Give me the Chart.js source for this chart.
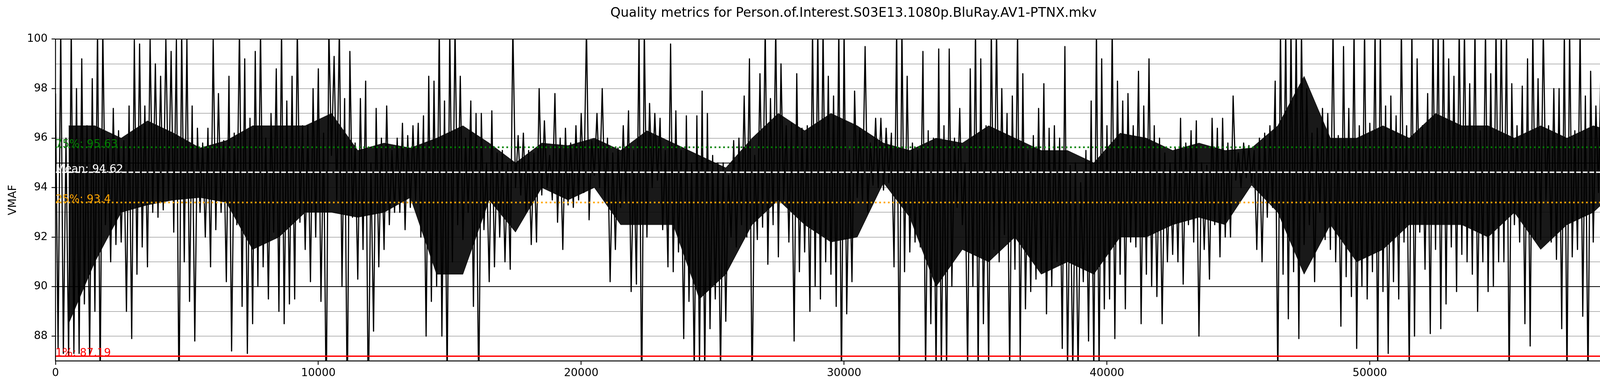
<!DOCTYPE html>
<html>
<head>
<meta charset="utf-8">
<script src="https://cdn.jsdelivr.net/npm/chart.js@4.4.1/dist/chart.umd.min.js"></script>
<style>
html, body { margin: 0; padding: 0; background: #ffffff; overflow: hidden; }
#wrap { width: 4400px; height: 1000px; }
canvas { display: block; }
</style>
</head>
<body>
<div id="wrap"><canvas id="chart" width="4400" height="1000" style="width:4400px;height:1000px"></canvas></div>
<script>
// ---------------- data ----------------
const chartTitle = 'Quality metrics for Person.of.Interest.S03E13.1080p.BluRay.AV1-PTNX.mkv';
const yAxisLabel = 'VMAF';
const FRAME_STEP = 100;
const totalFrames = 62829;
const lastFrame = 62828;
const lastScore = 96.1;

// VMAF readings, frames 0 .. 6900
const vmafSeg0 = [97.8, 87.5, 100.5, 87.3, 96, 87.2, 100.5, 87.3, 98, 87.3,
  99.2, 89.3, 96.5, 87.2, 98.4, 89, 100.5, 86, 100.5, 92.5,
  96, 91, 97.2, 91.7, 96.3, 91.8, 95.9, 89, 97.3, 87.9,
  100, 90.5, 99.8, 91.6, 97.3, 90.8, 100, 93, 99, 92.8,
  98.5, 93.1, 100, 93.5, 99.5, 92.2, 100, 85, 100.5, 91,
  100, 89.4, 97.3, 87.8, 96.4, 93, 95.8, 92, 96.4, 90.8,
  100, 92.3, 97.8, 93, 95.9, 90.2, 98.5, 87.4, 96.2, 92.5];
// frames 7000 .. 13900
const vmafSeg1 = [100.5, 89.2, 99.2, 87.3, 96.8, 88.5, 99.5, 90.0, 100.5, 90.8,
  96.0, 89.5, 97.0, 92.2, 98.8, 89.0, 100.5, 88.5, 97.5, 89.3,
  98.5, 89.5, 100.5, 92.6, 96.5, 91.5, 96.5, 90.2, 98.0, 92.0,
  98.8, 89.4, 96.2, 85.0, 100.5, 95.3, 99.3, 93.5, 100.5, 90.0,
  97.6, 85.0, 99.5, 92.8, 95.8, 90.3, 97.6, 91.5, 98.3, 85.0,
  95.0, 88.2, 97.2, 90.8, 96.0, 91.5, 97.3, 92.5, 95.5, 93.0,
  96.0, 93.0, 96.6, 92.3, 96.1, 93.2, 96.5, 93.5, 96.6, 92.0];
// frames 14000 .. 20900
const vmafSeg2 = [96.9, 88.0, 98.5, 89.4, 98.3, 90.0, 100.5, 88.0, 97.5, 86.0,
  100.5, 91.0, 100.5, 92.5, 98.5, 91.9, 96.0, 93.0, 97.5, 89.2,
  97.0, 85.5, 97.0, 92.3, 95.0, 90.2, 97.1, 90.8, 95.4, 92.0,
  95.5, 91.0, 95.0, 90.7, 100.5, 94.0, 96.1, 93.7, 96.2, 93.0,
  95.5, 91.7, 95.4, 91.8, 98.0, 93.7, 96.7, 94.0, 95.3, 93.5,
  97.8, 92.6, 96.0, 91.5, 96.4, 93.3, 95.8, 93.2, 96.5, 93.5,
  97.0, 93.8, 100.5, 92.7, 95.9, 94.5, 97.0, 94.0, 98.0, 93.5];
// frames 21000 .. 27900
const vmafSeg3 = [96.0, 90.2, 95.4, 91.5, 95.6, 93.2, 96.5, 93.4, 97.1, 89.8,
  95.5, 90.1, 100.5, 85.0, 100.5, 92.0, 97.4, 94.0, 97.0, 94.3,
  96.8, 92.3, 95.5, 90.8, 99.8, 90.6, 97.1, 91.4, 95.5, 87.9,
  96.9, 89.4, 95.0, 86.5, 96.9, 86.8, 97.9, 86.5, 97.0, 88.3,
  95.3, 89.5, 95.0, 86.5, 95.0, 88.6, 94.5, 92.0, 95.9, 91.6,
  96.0, 92.5, 97.7, 92.0, 99.2, 85.5, 95.3, 91.9, 98.6, 92.4,
  100.5, 90.9, 97.6, 92.5, 100.5, 91.2, 99.0, 93.5, 96.5, 91.8];
// frames 28000 .. 34800
const vmafSeg4 = [96.6, 87.8, 98.6, 90.6, 96.4, 91.4, 96.5, 89.0, 100.5, 90.0,
  100.5, 89.5, 100.5, 91.0, 98.5, 90.5, 97.7, 89.2, 100.5, 86.0,
  100.5, 88.9, 95.5, 90.2, 97.9, 93.6, 96.4, 93.4, 99.7, 93.0,
  95.8, 94.1, 96.8, 94.0, 96.8, 93.9, 96.4, 94.2, 96.2, 90.8,
  100.5, 86.0, 100.5, 90.6, 98.5, 91.4, 95.8, 91.8, 95.5, 91.6,
  99.5, 86.5, 96.3, 88.5, 96.0, 86.5, 99.6, 86.5, 96.5, 86.5,
  99.6, 90.0, 96.0, 93.2, 97.2, 92.5, 95.0, 86.5, 98.8];
// frames 34900 .. 41800
const vmafSeg5 = [90.0, 100.5, 86.5, 99.2, 88.5, 96.5, 86.5, 100.5, 91.5, 100.5,
  91.0, 98.0, 92.1, 97.0, 86.5, 97.7, 90.7, 100.5, 87.0, 98.6,
  89.1, 95.5, 89.8, 96.1, 90.3, 97.2, 90.6, 98.2, 88.9, 96.4,
  90.0, 96.5, 91.0, 96.0, 87.5, 99.7, 86.5, 94.9, 86.5, 95.0,
  86.5, 94.2, 90.2, 95.5, 87.8, 97.5, 86.5, 100.5, 86.5, 99.2,
  89.1, 96.5, 89.5, 100.5, 87.9, 98.3, 90.5, 97.5, 89.1, 97.8,
  91.8, 96.5, 91.6, 98.7, 88.5, 97.3, 90.5, 99.2, 90.0, 96.5];
// frames 41900 .. 48800
const vmafSeg6 = [89.6, 96.0, 88.5, 95.4, 91.0, 95.0, 91.3, 95.6, 91.0, 96.8,
  90.1, 95.8, 92.5, 96.3, 91.8, 96.7, 88.0, 95.0, 91.5, 94.9,
  90.3, 96.8, 92.5, 96.4, 91.2, 96.8, 92.0, 95.8, 92.0, 97.7,
  94.3, 95.4, 94.0, 95.8, 94.4, 95.7, 94.2, 95.5, 91.5, 96.0,
  91.0, 96.2, 92.8, 96.5, 93.2, 98.3, 86.0, 100.5, 90.5, 100.5,
  88.7, 100.5, 90.6, 100.5, 87.9, 100.5, 91.7, 98.0, 92.5, 96.2,
  90.2, 96.4, 93.0, 97.2, 91.9, 97.0, 91.5, 100.5, 91.0, 96.1];
// frames 48900 .. 55800
const vmafSeg7 = [88.4, 99.7, 90.4, 97.2, 89.6, 100.5, 87.5, 96.5, 90.0, 100.5,
  89.5, 96.6, 90.6, 100.5, 86.5, 100.5, 89.8, 97.3, 87.3, 97.7,
  90.2, 96.9, 89.5, 100.5, 91.8, 96.5, 86.5, 100.5, 88.0, 99.2,
  92.2, 96.5, 90.7, 97.8, 88.1, 100.5, 91.5, 100.5, 88.3, 100.5,
  89.3, 99.2, 91.6, 98.5, 89.8, 100.5, 91.3, 100.5, 91.0, 98.2,
  90.5, 100.5, 89.0, 96.3, 91.0, 100.5, 89.8, 98.6, 90.0, 100.5,
  91.0, 100.5, 91.0, 100.5, 86.0, 98.2, 92.5, 96.5, 91.8, 98.1];
// frames 55900 .. 62800
const vmafSeg8 = [88.5, 99.2, 87.6, 100.5, 91.9, 98.4, 91.9, 100.5, 93.5, 96.5,
  91.8, 98.0, 91.1, 98.0, 88.3, 100.5, 86.0, 100.5, 91.2, 96.3,
  91.5, 100.5, 88.8, 97.7, 86.0, 98.7, 91.8, 97.3, 93.8, 99.5,
  93.5, 98.1, 93.8, 100.5, 93.8, 98.6, 93.5, 100.5, 93.2, 100.5,
  93.0, 97.6, 91.6, 99.6, 92.4, 98.4, 92.5, 97.8, 91.9, 96.7,
  91.8, 100.5, 92.2, 97.0, 93.6, 97.2, 93.5, 97.2, 90.8, 100.5,
  86.0, 89.7, 97.95, 97.3, 97.3, 97.15, 97.3, 93.6, 98.4, 95.9];

// dense core of the trace (where the frame-to-frame jitter fills solid black),
// one reading per 1000-frame bin, bins centred on 500, 1500, ... 61500
const CORE_STEP = 1000;
const coreLow  = [88.5, 91, 93, 93.3, 93.5, 93.6, 93.4,
  91.5, 92, 93, 93, 92.8, 93, 93.6,
  90.5, 90.5, 93.5, 92.2, 94, 93.5, 94,
  92.5, 92.5, 92.5, 89.5, 90.5, 92.5, 93.5,
  92.5, 91.8, 92, 94.2, 92.8, 90, 91.5,
  91, 92, 90.5, 91, 90.5, 92, 92,
  92.5, 92.8, 92.5, 94.1, 93, 90.5, 92.5,
  91, 91.5, 92.5, 92.5, 92.5, 92, 93,
  91.5, 92.5, 93, 94, 93.5, 93];
const coreHigh = [96.5, 96.5, 96, 96.7, 96.2, 95.6, 95.9,
  96.5, 96.5, 96.5, 97, 95.5, 95.8, 95.6,
  96, 96.5, 95.8, 95, 95.8, 95.7, 96,
  95.5, 96.3, 95.8, 95.3, 94.8, 96, 97,
  96.3, 97, 96.5, 95.8, 95.5, 96, 95.8,
  96.5, 96, 95.5, 95.5, 95, 96.2, 96,
  95.5, 95.8, 95.5, 95.6, 96.5, 98.5, 96,
  96, 96.5, 96, 97, 96.5, 96.5, 96,
  96.5, 96, 96.5, 96.2, 95.5, 95.5];

// summary statistics
const statKeys   = ['75%', 'Mean', '25%', '1%'];
const statValues = [95.63, 94.62, 93.4, 87.19];
const legendKeys = ['Mean', '1%', '25%', '75%'];

// axis ranges / ticks
const yMin = 87, yMax = 100;
const xTickValues = [0, 10000, 20000, 30000, 40000, 50000, 60000];

// ---------------- styles ----------------
const FONT = '"DejaVu Sans", "Liberation Sans", sans-serif';
const statColors = { '75%': '#008000', 'Mean': '#ffffff', '25%': '#ffa500', '1%': '#ff0000' };
const statDash   = { '75%': [4.2, 6.9], 'Mean': [12, 5], '25%': [4.2, 6.9], '1%': [] };
const statWidth  = { '75%': 4.2, 'Mean': 3.4, '25%': 4.2, '1%': 3.5 };

const allScores = [].concat(vmafSeg0, vmafSeg1, vmafSeg2, vmafSeg3, vmafSeg4,
                            vmafSeg5, vmafSeg6, vmafSeg7, vmafSeg8);
const points = allScores.map((v, i) => ({ x: i * FRAME_STEP, y: v }));
points.push({ x: lastFrame, y: lastScore });

const corePointsHigh = coreHigh.map((v, i) => ({ x: CORE_STEP / 2 + i * CORE_STEP, y: v }));
const corePointsLow  = coreLow.map((v, i) => ({ x: CORE_STEP / 2 + i * CORE_STEP, y: v }));

const statDatasets = statKeys.map((k, i) => ({
  label: k,
  data: [{ x: 0, y: statValues[i] }, { x: lastFrame, y: statValues[i] }],
  borderColor: statColors[k],
  borderWidth: statWidth[k],
  borderDash: statDash[k],
  borderCapStyle: 'butt',
  pointRadius: 0,
  fill: false,
  order: i
}));

function roundRectPath(ctx, x, y, w, h, r) {
  ctx.beginPath();
  ctx.moveTo(x + r, y);
  ctx.lineTo(x + w - r, y);
  ctx.quadraticCurveTo(x + w, y, x + w, y + r);
  ctx.lineTo(x + w, y + h - r);
  ctx.quadraticCurveTo(x + w, y + h, x + w - r, y + h);
  ctx.lineTo(x + r, y + h);
  ctx.quadraticCurveTo(x, y + h, x, y + h - r);
  ctx.lineTo(x, y + r);
  ctx.quadraticCurveTo(x, y, x + r, y);
  ctx.closePath();
}

const overlayPlugin = {
  id: 'overlay',
  beforeDraw(chart) {
    const c = chart.ctx;
    c.save();
    c.fillStyle = '#ffffff';
    c.fillRect(0, 0, chart.width, chart.height);
    c.restore();
  },
  afterDatasetsDraw(chart) {
    const { ctx, chartArea: a, scales } = chart;
    const xs = scales.x, ys = scales.y;
    ctx.save();
    ctx.font = '27.8px ' + FONT;
    ctx.textAlign = 'left';
    ctx.textBaseline = 'alphabetic';
    statKeys.forEach((k, i) => {
      ctx.fillStyle = statColors[k];
      ctx.fillText(k + ': ' + statValues[i], xs.getPixelForValue(0), ys.getPixelForValue(statValues[i]));
    });
    ctx.strokeStyle = '#000000';
    ctx.lineWidth = 2.2;
    ctx.strokeRect(a.left, a.top, a.right - a.left, a.bottom - a.top);
    ctx.restore();
  },
  afterDraw(chart) {
    const { ctx, chartArea: a } = chart;
    ctx.save();
    const bw = 253, bh = 180;
    const bx = a.right - 13 - bw, by = a.bottom - 14 - bh;
    roundRectPath(ctx, bx, by, bw, bh, 6);
    ctx.fillStyle = 'rgba(255,255,255,0.8)';
    ctx.fill();
    ctx.strokeStyle = 'rgba(204,204,204,0.8)';
    ctx.lineWidth = 2.2;
    ctx.stroke();
    const lines = ['Frames: ' + totalFrames].concat(legendKeys.map(k => {
      const v = statValues[statKeys.indexOf(k)];
      return k === 'Mean' ? k + ':' + v : k + ': ' + v;
    }));
    ctx.font = '27.8px ' + FONT;
    ctx.textAlign = 'left';
    ctx.textBaseline = 'alphabetic';
    ctx.fillStyle = '#000000';
    lines.forEach((t, i) => ctx.fillText(t, bx + 34, by + 33 + i * 32.5));
    ctx.restore();
  }
};

const tickFont = { family: FONT, size: 27.8 };

new Chart(document.getElementById('chart'), {
  type: 'line',
  data: {
    datasets: statDatasets.concat([
      {
        label: 'VMAF',
        data: points,
        borderColor: '#000000',
        borderWidth: 3.0,
        borderJoinStyle: 'round',
        pointRadius: 0,
        tension: 0,
        fill: false,
        clip: 0,
        order: 10
      },
      {
        label: 'core-high',
        data: corePointsHigh,
        borderColor: 'rgba(0,0,0,0.9)',
        borderWidth: 1,
        backgroundColor: 'rgba(0,0,0,0.9)',
        pointRadius: 0,
        tension: 0,
        fill: '+1',
        clip: 0,
        order: 11
      },
      {
        label: 'core-low',
        data: corePointsLow,
        borderColor: 'rgba(0,0,0,0.9)',
        borderWidth: 1,
        pointRadius: 0,
        tension: 0,
        fill: false,
        clip: 0,
        order: 12
      }
    ])
  },
  options: {
    responsive: false,
    animation: false,
    devicePixelRatio: 1,
    parsing: false,
    normalized: true,
    layout: { padding: { left: 0, right: 30, top: 0, bottom: 0 } },
    plugins: {
      legend: { display: false },
      tooltip: { enabled: false },
      title: {
        display: true,
        text: chartTitle,
        color: '#000000',
        font: { family: FONT, size: 33.3, weight: 'normal', lineHeight: 1.2 },
        padding: { top: 14, bottom: 46 }
      }
    },
    scales: {
      x: {
        type: 'linear',
        min: 0,
        max: lastFrame,
        afterBuildTicks: s => { s.ticks = xTickValues.map(v => ({ value: v })); },
        ticks: {
          autoSkip: false,
          maxRotation: 0,
          minRotation: 0,
          color: '#000000',
          font: tickFont,
          padding: 5,
          callback: v => String(v)
        },
        grid: { drawOnChartArea: false, drawTicks: true, tickLength: 10, tickWidth: 2.2, tickColor: '#000000' },
        border: { display: true, color: '#000000', width: 2.2 },
        afterFit: s => { s.height = 77; }
      },
      y: {
        type: 'linear',
        min: yMin,
        max: yMax,
        ticks: {
          stepSize: 1,
          autoSkip: false,
          color: '#000000',
          font: tickFont,
          padding: 10,
          callback: v => (v % 2 === 0 ? String(v) : '')
        },
        grid: {
          color: c => (c.tick && (c.tick.value === 90 || c.tick.value === 95)) ? '#000000' : '#8a8a8a',
          lineWidth: c => (c.tick && (c.tick.value === 90 || c.tick.value === 95)) ? 2 : 1.3,
          tickLength: 10,
          tickWidth: 2.2,
          tickColor: c => (c.tick && c.tick.value % 2 === 0) ? '#000000' : 'rgba(0,0,0,0)'
        },
        border: { display: true, color: '#000000', width: 2.2 },
        title: {
          display: true,
          text: yAxisLabel,
          color: '#000000',
          font: { family: FONT, size: 27.8, lineHeight: 1.2 },
          padding: { top: 17, bottom: 0 }
        },
        afterFit: s => { s.width = 142; }
      }
    }
  },
  plugins: [overlayPlugin]
});
</script>
</body>
</html>
